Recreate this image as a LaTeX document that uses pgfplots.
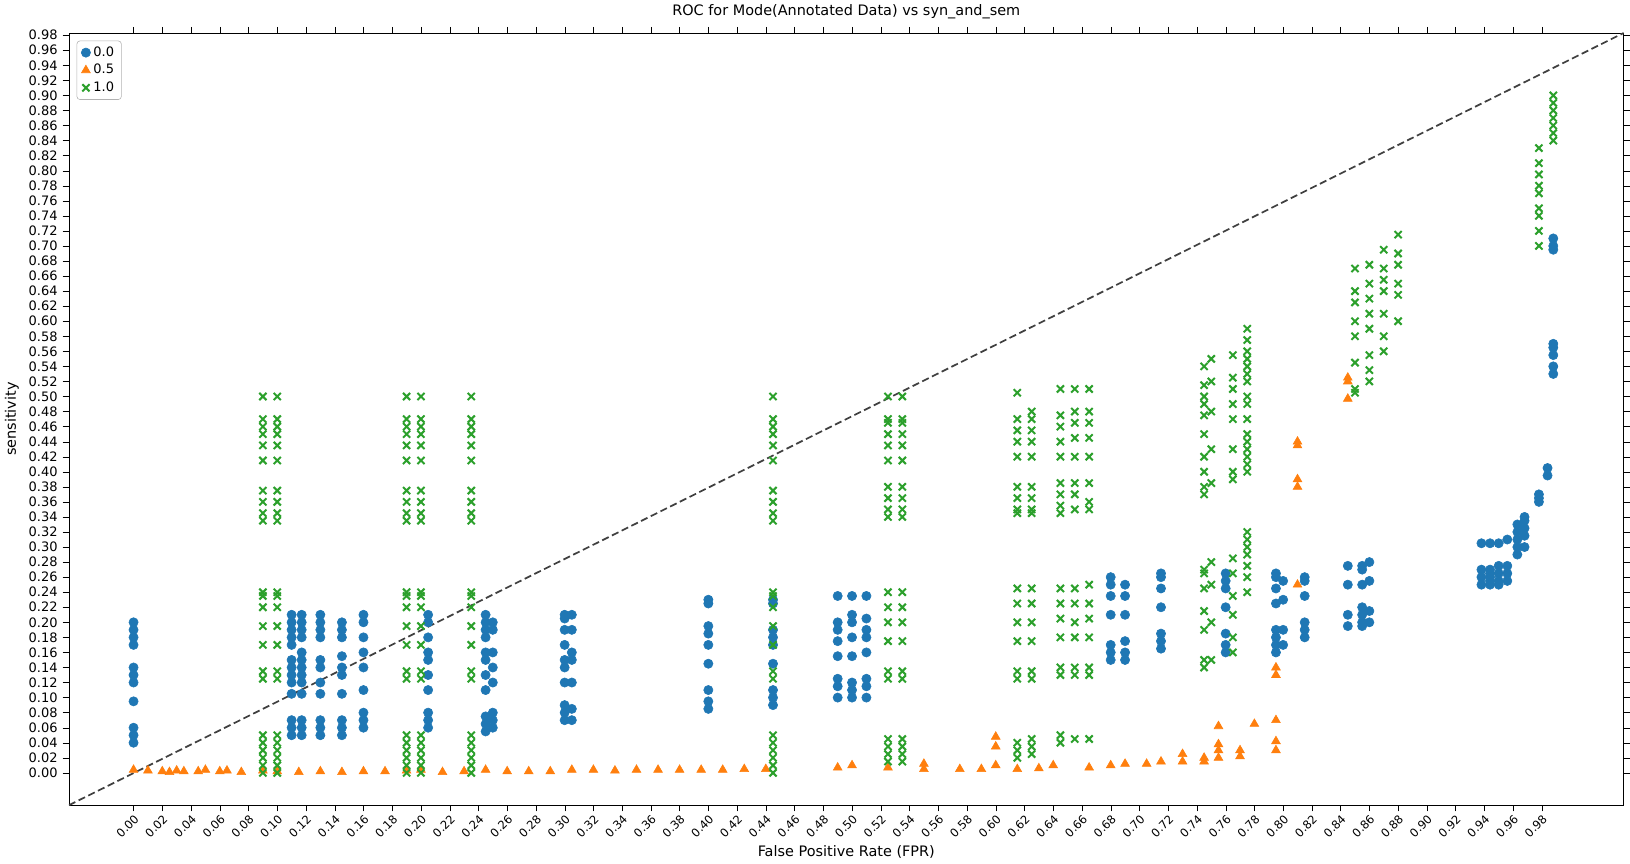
\documentclass[border=0pt]{standalone}
\usepackage{pgfplots}
\pgfplotsset{compat=1.18}
\usepackage{fontspec}
\setmainfont{DejaVu Sans}
\definecolor{tb}{HTML}{1F77B4}
\definecolor{to}{HTML}{FF7F0E}
\definecolor{tg}{HTML}{2CA02C}
\begin{document}
\begin{tikzpicture}
\begin{axis}[
 scale only axis, width=37.85cm, height=18.8cm,
 xmin=-0.045, xmax=1.037, ymin=-0.043, ymax=0.983,
 xtick={0,0.02,0.04,0.06,0.08,0.10,0.12,0.14,0.16,0.18,0.20,0.22,0.24,0.26,0.28,0.30,0.32,0.34,0.36,0.38,0.40,0.42,0.44,0.46,0.48,0.50,0.52,0.54,0.56,0.58,0.60,0.62,0.64,0.66,0.68,0.70,0.72,0.74,0.76,0.78,0.80,0.82,0.84,0.86,0.88,0.90,0.92,0.94,0.96,0.98},
 ytick={0,0.02,0.04,0.06,0.08,0.10,0.12,0.14,0.16,0.18,0.20,0.22,0.24,0.26,0.28,0.30,0.32,0.34,0.36,0.38,0.40,0.42,0.44,0.46,0.48,0.50,0.52,0.54,0.56,0.58,0.60,0.62,0.64,0.66,0.68,0.70,0.72,0.74,0.76,0.78,0.80,0.82,0.84,0.86,0.88,0.90,0.92,0.94,0.96,0.98},
 xticklabel style={rotate=45,anchor=north east,font=\footnotesize,inner sep=1pt},
 yticklabel style={font=\small},
 /pgf/number format/.cd, fixed, fixed zerofill, precision=2, assume math mode=true, /pgfplots/.cd,
 title={ROC for Mode(Annotated Data) vs syn\_and\_sem},
 xlabel={False Positive Rate (FPR)}, ylabel={sensitivity},
 legend style={at={(0.005,0.99)}, anchor=north west, font=\small, draw=black!30, rounded corners=2pt},
 legend cell align=left,
 tick align=outside, tick style={black},
]
\addplot[only marks, mark=*, mark size=3.2pt, color=tb] coordinates {
(0,0.04)(0,0.05)(0,0.06)(0,0.095)(0,0.12)(0,0.13)(0,0.14)(0,0.17)(0,0.18)(0,0.19)(0,0.20)
(0.11,0.05)(0.11,0.06)(0.11,0.07)(0.11,0.105)(0.11,0.12)(0.11,0.13)(0.11,0.14)(0.11,0.15)(0.11,0.17)(0.11,0.18)(0.11,0.19)(0.11,0.20)(0.11,0.21)
(0.117,0.05)(0.117,0.06)(0.117,0.07)(0.117,0.105)(0.117,0.12)(0.117,0.13)(0.117,0.14)(0.117,0.15)(0.117,0.16)(0.117,0.18)(0.117,0.19)(0.117,0.20)(0.117,0.21)
(0.13,0.05)(0.13,0.06)(0.13,0.07)(0.13,0.105)(0.13,0.12)(0.13,0.14)(0.13,0.15)(0.13,0.18)(0.13,0.19)(0.13,0.20)(0.13,0.21)
(0.145,0.05)(0.145,0.06)(0.145,0.07)(0.145,0.105)(0.145,0.13)(0.145,0.14)(0.145,0.155)(0.145,0.18)(0.145,0.19)(0.145,0.20)
(0.16,0.06)(0.16,0.07)(0.16,0.08)(0.16,0.11)(0.16,0.14)(0.16,0.16)(0.16,0.18)(0.16,0.20)(0.16,0.21)
(0.205,0.06)(0.205,0.07)(0.205,0.08)(0.205,0.11)(0.205,0.13)(0.205,0.15)(0.205,0.16)(0.205,0.18)(0.205,0.20)(0.205,0.21)
(0.245,0.055)(0.245,0.065)(0.245,0.075)(0.245,0.11)(0.245,0.13)(0.245,0.15)(0.245,0.16)(0.245,0.18)(0.245,0.19)(0.245,0.20)(0.245,0.21)
(0.25,0.06)(0.25,0.07)(0.25,0.08)(0.25,0.12)(0.25,0.14)(0.25,0.16)(0.25,0.19)(0.25,0.20)
(0.30,0.07)(0.30,0.08)(0.30,0.09)(0.30,0.12)(0.30,0.14)(0.30,0.15)(0.30,0.17)(0.30,0.19)(0.30,0.205)(0.30,0.21)
(0.305,0.07)(0.305,0.085)(0.305,0.12)(0.305,0.15)(0.305,0.16)(0.305,0.19)(0.305,0.21)
(0.40,0.085)(0.40,0.095)(0.40,0.11)(0.40,0.145)(0.40,0.17)(0.40,0.185)(0.40,0.195)(0.40,0.225)(0.40,0.23)
(0.445,0.09)(0.445,0.10)(0.445,0.11)(0.445,0.145)(0.445,0.17)(0.445,0.18)(0.445,0.19)(0.445,0.225)(0.445,0.23)
(0.49,0.10)(0.49,0.115)(0.49,0.125)(0.49,0.155)(0.49,0.175)(0.49,0.19)(0.49,0.20)(0.49,0.235)
(0.50,0.10)(0.50,0.11)(0.50,0.12)(0.50,0.155)(0.50,0.18)(0.50,0.20)(0.50,0.21)(0.50,0.235)
(0.51,0.10)(0.51,0.115)(0.51,0.125)(0.51,0.16)(0.51,0.18)(0.51,0.19)(0.51,0.205)(0.51,0.235)
(0.68,0.15)(0.68,0.16)(0.68,0.17)(0.68,0.21)(0.68,0.235)(0.68,0.25)(0.68,0.26)
(0.69,0.15)(0.69,0.16)(0.69,0.175)(0.69,0.21)(0.69,0.235)(0.69,0.25)
(0.715,0.165)(0.715,0.175)(0.715,0.185)(0.715,0.22)(0.715,0.245)(0.715,0.26)(0.715,0.265)
(0.76,0.16)(0.76,0.17)(0.76,0.185)(0.76,0.22)(0.76,0.245)(0.76,0.255)(0.76,0.265)
(0.795,0.16)(0.795,0.17)(0.795,0.18)(0.795,0.19)(0.795,0.225)(0.795,0.245)(0.795,0.26)(0.795,0.265)
(0.80,0.17)(0.80,0.19)(0.80,0.23)(0.80,0.255)
(0.815,0.18)(0.815,0.19)(0.815,0.20)(0.815,0.235)(0.815,0.255)(0.815,0.26)
(0.845,0.195)(0.845,0.21)(0.845,0.25)(0.845,0.275)
(0.855,0.195)(0.855,0.20)(0.855,0.21)(0.855,0.22)(0.855,0.25)(0.855,0.27)(0.855,0.275)
(0.86,0.20)(0.86,0.215)(0.86,0.255)(0.86,0.28)
(0.938,0.25)(0.938,0.26)(0.938,0.27)(0.938,0.305)
(0.944,0.25)(0.944,0.255)(0.944,0.26)(0.944,0.265)(0.944,0.27)(0.944,0.305)
(0.95,0.25)(0.95,0.255)(0.95,0.265)(0.95,0.275)(0.95,0.305)
(0.956,0.255)(0.956,0.265)(0.956,0.275)(0.956,0.31)
(0.963,0.29)(0.963,0.30)(0.963,0.31)(0.963,0.32)(0.963,0.33)
(0.968,0.30)(0.968,0.315)(0.968,0.325)(0.968,0.335)(0.968,0.34)
(0.978,0.36)(0.978,0.365)(0.978,0.37)
(0.984,0.395)(0.984,0.405)
(0.988,0.53)(0.988,0.54)(0.988,0.555)(0.988,0.565)(0.988,0.57)(0.988,0.695)(0.988,0.70)(0.988,0.71)
};
\addlegendentry{0.0}
\addplot[only marks, mark=triangle*, mark size=3.5pt, color=to] coordinates {
(0,0.004)(0.01,0.003)(0.02,0.002)(0.025,0.001)(0.03,0.003)(0.035,0.002)(0.045,0.002)(0.05,0.004)(0.06,0.002)(0.065,0.003)(0.075,0.001)
(0.09,0.003)(0.1,0.002)(0.115,0.001)(0.13,0.002)(0.145,0.001)(0.16,0.002)(0.175,0.002)(0.19,0.003)(0.2,0.004)(0.215,0.001)(0.23,0.002)(0.245,0.004)
(0.26,0.002)(0.275,0.002)(0.29,0.002)(0.305,0.004)(0.32,0.004)(0.335,0.003)(0.35,0.004)(0.365,0.004)(0.38,0.004)(0.395,0.004)(0.41,0.004)(0.425,0.005)(0.44,0.005)
(0.49,0.007)(0.50,0.01)(0.525,0.007)(0.55,0.005)(0.55,0.012)(0.575,0.005)(0.59,0.005)(0.60,0.01)(0.60,0.035)(0.60,0.048)(0.615,0.005)(0.63,0.006)(0.64,0.01)
(0.665,0.007)(0.68,0.01)(0.69,0.012)(0.705,0.012)(0.715,0.015)(0.73,0.015)(0.73,0.025)(0.745,0.015)(0.745,0.02)
(0.755,0.02)(0.755,0.03)(0.755,0.038)(0.755,0.062)(0.77,0.022)(0.77,0.03)(0.78,0.065)
(0.795,0.03)(0.795,0.042)(0.795,0.07)(0.795,0.13)(0.795,0.14)(0.81,0.25)(0.81,0.38)(0.81,0.39)(0.81,0.435)(0.81,0.44)
(0.845,0.497)(0.845,0.52)(0.845,0.525)
};
\addlegendentry{0.5}
\addplot[only marks, mark=x, mark size=3.5pt, line width=1.4pt, color=tg] coordinates {
(0.09,0)(0.09,0.01)(0.09,0.02)(0.09,0.03)(0.09,0.04)(0.09,0.05)(0.09,0.125)(0.09,0.135)(0.09,0.17)(0.09,0.195)(0.09,0.22)(0.09,0.235)(0.09,0.24)(0.09,0.335)(0.09,0.345)(0.09,0.36)(0.09,0.375)(0.09,0.415)(0.09,0.435)(0.09,0.45)(0.09,0.46)(0.09,0.47)(0.09,0.50)
(0.10,0)(0.10,0.01)(0.10,0.02)(0.10,0.03)(0.10,0.04)(0.10,0.05)(0.10,0.125)(0.10,0.135)(0.10,0.17)(0.10,0.195)(0.10,0.22)(0.10,0.235)(0.10,0.24)(0.10,0.335)(0.10,0.345)(0.10,0.36)(0.10,0.375)(0.10,0.415)(0.10,0.435)(0.10,0.45)(0.10,0.46)(0.10,0.47)(0.10,0.50)
(0.19,0)(0.19,0.01)(0.19,0.02)(0.19,0.03)(0.19,0.04)(0.19,0.05)(0.19,0.125)(0.19,0.135)(0.19,0.17)(0.19,0.195)(0.19,0.22)(0.19,0.235)(0.19,0.24)(0.19,0.335)(0.19,0.345)(0.19,0.36)(0.19,0.375)(0.19,0.415)(0.19,0.435)(0.19,0.45)(0.19,0.46)(0.19,0.47)(0.19,0.50)
(0.20,0)(0.20,0.01)(0.20,0.02)(0.20,0.03)(0.20,0.04)(0.20,0.05)(0.20,0.125)(0.20,0.135)(0.20,0.17)(0.20,0.195)(0.20,0.22)(0.20,0.235)(0.20,0.24)(0.20,0.335)(0.20,0.345)(0.20,0.36)(0.20,0.375)(0.20,0.415)(0.20,0.435)(0.20,0.45)(0.20,0.46)(0.20,0.47)(0.20,0.50)
(0.235,0)(0.235,0.01)(0.235,0.02)(0.235,0.03)(0.235,0.04)(0.235,0.05)(0.235,0.125)(0.235,0.135)(0.235,0.17)(0.235,0.195)(0.235,0.22)(0.235,0.235)(0.235,0.24)(0.235,0.335)(0.235,0.345)(0.235,0.36)(0.235,0.375)(0.235,0.415)(0.235,0.435)(0.235,0.45)(0.235,0.46)(0.235,0.47)(0.235,0.50)
(0.445,0)(0.445,0.01)(0.445,0.02)(0.445,0.03)(0.445,0.04)(0.445,0.05)(0.445,0.125)(0.445,0.135)(0.445,0.17)(0.445,0.195)(0.445,0.22)(0.445,0.235)(0.445,0.24)(0.445,0.335)(0.445,0.345)(0.445,0.36)(0.445,0.375)(0.445,0.415)(0.445,0.435)(0.445,0.45)(0.445,0.46)(0.445,0.47)(0.445,0.50)
(0.525,0.015)(0.525,0.025)(0.525,0.035)(0.525,0.045)(0.525,0.125)(0.525,0.135)(0.525,0.175)(0.525,0.2)(0.525,0.22)(0.525,0.24)(0.525,0.34)(0.525,0.35)(0.525,0.365)(0.525,0.38)(0.525,0.415)(0.525,0.435)(0.525,0.45)(0.525,0.465)(0.525,0.47)(0.525,0.50)
(0.535,0.015)(0.535,0.025)(0.535,0.035)(0.535,0.045)(0.535,0.125)(0.535,0.135)(0.535,0.175)(0.535,0.2)(0.535,0.22)(0.535,0.24)(0.535,0.34)(0.535,0.35)(0.535,0.365)(0.535,0.38)(0.535,0.415)(0.535,0.435)(0.535,0.45)(0.535,0.465)(0.535,0.47)(0.535,0.50)
(0.615,0.02)(0.615,0.03)(0.615,0.04)(0.615,0.125)(0.615,0.135)(0.615,0.175)(0.615,0.2)(0.615,0.225)(0.615,0.245)(0.615,0.345)(0.615,0.35)(0.615,0.365)(0.615,0.38)(0.615,0.42)(0.615,0.44)(0.615,0.455)(0.615,0.47)(0.615,0.505)
(0.625,0.025)(0.625,0.035)(0.625,0.045)(0.625,0.125)(0.625,0.135)(0.625,0.175)(0.625,0.2)(0.625,0.225)(0.625,0.245)(0.625,0.345)(0.625,0.35)(0.625,0.365)(0.625,0.38)(0.625,0.42)(0.625,0.44)(0.625,0.455)(0.625,0.47)(0.625,0.48)
(0.645,0.04)(0.645,0.05)(0.645,0.13)(0.645,0.14)(0.645,0.18)(0.645,0.205)(0.645,0.225)(0.645,0.245)(0.645,0.345)(0.645,0.355)(0.645,0.37)(0.645,0.385)(0.645,0.42)(0.645,0.44)(0.645,0.46)(0.645,0.475)(0.645,0.51)
(0.655,0.045)(0.655,0.13)(0.655,0.14)(0.655,0.18)(0.655,0.2)(0.655,0.225)(0.655,0.245)(0.655,0.35)(0.655,0.37)(0.655,0.385)(0.655,0.42)(0.655,0.445)(0.655,0.465)(0.655,0.48)(0.655,0.51)
(0.665,0.045)(0.665,0.13)(0.665,0.14)(0.665,0.18)(0.665,0.205)(0.665,0.225)(0.665,0.25)(0.665,0.35)(0.665,0.36)(0.665,0.385)(0.665,0.42)(0.665,0.445)(0.665,0.465)(0.665,0.48)(0.665,0.51)
(0.745,0.14)(0.745,0.15)(0.745,0.19)(0.745,0.215)(0.745,0.245)(0.745,0.265)(0.745,0.27)(0.745,0.37)(0.745,0.38)(0.745,0.40)(0.745,0.42)(0.745,0.45)(0.745,0.475)(0.745,0.49)(0.745,0.50)(0.745,0.515)(0.745,0.54)
(0.75,0.15)(0.75,0.2)(0.75,0.25)(0.75,0.28)(0.75,0.385)(0.75,0.43)(0.75,0.48)(0.75,0.52)(0.75,0.55)
(0.765,0.16)(0.765,0.18)(0.765,0.21)(0.765,0.235)(0.765,0.265)(0.765,0.285)(0.765,0.39)(0.765,0.40)(0.765,0.43)(0.765,0.47)(0.765,0.49)(0.765,0.51)(0.765,0.525)(0.765,0.555)
(0.775,0.24)(0.775,0.26)(0.775,0.275)(0.775,0.29)(0.775,0.30)(0.775,0.31)(0.775,0.32)(0.775,0.40)(0.775,0.41)(0.775,0.42)(0.775,0.43)(0.775,0.44)(0.775,0.45)(0.775,0.47)(0.775,0.49)(0.775,0.50)(0.775,0.52)(0.775,0.53)(0.775,0.54)(0.775,0.55)(0.775,0.56)(0.775,0.575)(0.775,0.59)
(0.85,0.505)(0.85,0.51)(0.85,0.545)(0.85,0.58)(0.85,0.60)(0.85,0.625)(0.85,0.64)(0.85,0.67)
(0.86,0.52)(0.86,0.535)(0.86,0.555)(0.86,0.59)(0.86,0.61)(0.86,0.63)(0.86,0.65)(0.86,0.675)
(0.87,0.56)(0.87,0.58)(0.87,0.61)(0.87,0.64)(0.87,0.655)(0.87,0.67)(0.87,0.695)
(0.88,0.60)(0.88,0.635)(0.88,0.65)(0.88,0.675)(0.88,0.69)(0.88,0.715)
(0.978,0.70)(0.978,0.72)(0.978,0.74)(0.978,0.75)(0.978,0.77)(0.978,0.78)(0.978,0.795)(0.978,0.81)(0.978,0.83)
(0.988,0.84)(0.988,0.85)(0.988,0.86)(0.988,0.87)(0.988,0.88)(0.988,0.89)(0.988,0.90)
};
\addlegendentry{1.0}
\addplot[black!75, line width=1.2pt, dash pattern=on 5pt off 2.5pt, forget plot] coordinates {(-0.045,-0.043)(1.037,0.983)};
\end{axis}
\end{tikzpicture}
\end{document}
